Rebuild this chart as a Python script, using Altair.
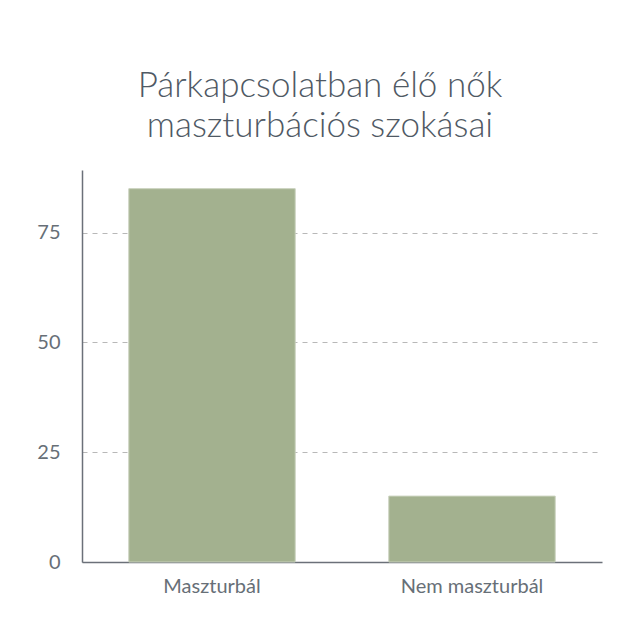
import altair as alt
import pandas as pd

categories = ["Maszturbál", "Nem maszturbál"]
values = [85, 15]
y_ticks = [0, 25, 50, 75]

df = pd.DataFrame({"cat": categories, "val": values})

chart = alt.Chart(df).mark_bar(
    color="#a3b18f", stroke="#c9d1bd", strokeWidth=1
).encode(
    x=alt.X("cat:N", sort=categories,
            scale=alt.Scale(paddingInner=0.36, paddingOuter=0.18),
            axis=alt.Axis(title=None, labelAngle=0, ticks=False, labelPadding=14,
                          labelFontSize=20, labelColor="#676f77", labelFont="Lato",
                          labelFontWeight=400,
                          domainColor="#6b7079", domainWidth=1.5, grid=False)),
    y=alt.Y("val:Q", scale=alt.Scale(domain=[0, 89.25], nice=False),
            axis=alt.Axis(title=None, values=y_ticks, ticks=False, labelPadding=22,
                          labelFontSize=20, labelColor="#676f77", labelFont="Lato",
                          labelFontWeight=400,
                          domainColor="#6b7079", domainWidth=1.5,
                          grid=True, gridDash=[5, 5], gridColor="#b8b8b8", gridWidth=1)),
).properties(
    width=520, height=392,
    autosize=alt.AutoSizeParams(type="none"),
    padding={"left": 74, "top": 162, "right": 30, "bottom": 60},
    title=alt.Title(["Párkapcsolatban élő nők", "maszturbációs szokásai"],
                    font="Lato", fontSize=35, fontWeight=300, color="#4f5964",
                    anchor="middle", frame="group", dx=-22, offset=-2,
                    baseline="alphabetic", lineHeight=40),
).configure_view(stroke=None)

chart.save("out.html", embed_options={"renderer": "svg", "actions": False})
